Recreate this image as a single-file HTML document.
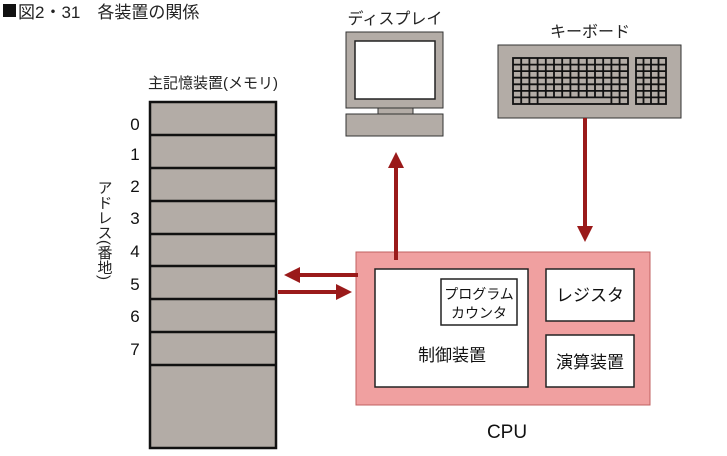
<!DOCTYPE html>
<html><head><meta charset="utf-8"><style>
html,body{margin:0;padding:0;background:#fff;}
svg{display:block;font-family:"Liberation Sans","Noto Sans CJK JP",sans-serif;}
</style></head><body>
<svg width="727" height="456" viewBox="0 0 727 456" xmlns="http://www.w3.org/2000/svg">
<defs>
<marker id="ah" markerWidth="4" markerHeight="4" refX="2" refY="2" orient="auto" markerUnits="strokeWidth">
<path d="M0,0 L4,2 L0,4 Z" fill="#9a1a1a"/></marker>
</defs>
<rect x="3" y="4" width="13" height="13" fill="#111"/>
<text x="18" y="18" font-size="17" fill="#222">図2・31　各装置の関係</text>

<text x="213" y="88" font-size="15" text-anchor="middle" fill="#222">主記憶装置(メモリ)</text>
<rect x="150" y="102" width="126" height="346" fill="#b3aca6" stroke="#111" stroke-width="2.5"/>
<g stroke="#111" stroke-width="2.5">
<line x1="150" y1="135" x2="276" y2="135"/><line x1="150" y1="168" x2="276" y2="168"/>
<line x1="150" y1="201" x2="276" y2="201"/><line x1="150" y1="234" x2="276" y2="234"/>
<line x1="150" y1="266" x2="276" y2="266"/><line x1="150" y1="299" x2="276" y2="299"/>
<line x1="150" y1="332" x2="276" y2="332"/><line x1="150" y1="365" x2="276" y2="365"/>
</g>
<g font-size="17" text-anchor="middle" fill="#111">
<text x="135" y="130">0</text><text x="135" y="160">1</text><text x="135" y="192">2</text>
<text x="135" y="224">3</text><text x="135" y="257">4</text><text x="135" y="290">5</text>
<text x="135" y="322">6</text><text x="135" y="355">7</text>
</g>
<text x="104" y="180" font-size="15" fill="#222" style="writing-mode:vertical-rl">アドレス(番地)</text>

<text x="395" y="24" font-size="16" text-anchor="middle" fill="#222">ディスプレイ</text>
<rect x="346" y="32" width="97" height="76" fill="#b3aca6" stroke="#333" stroke-width="1"/>
<rect x="355" y="41" width="80" height="58" fill="#fff" stroke="#222" stroke-width="1.5"/>
<rect x="378" y="108" width="35" height="7" fill="#b3aca6" stroke="#333" stroke-width="1"/>
<rect x="346" y="114" width="97" height="22" fill="#b3aca6" stroke="#333" stroke-width="1"/>

<text x="590" y="37" font-size="16" text-anchor="middle" fill="#222">キーボード</text>
<rect x="498" y="45" width="183" height="73" fill="#b3aca6" stroke="#333" stroke-width="1"/>
<g stroke="#111" stroke-width="1.8" fill="none">
<rect x="513" y="58" width="115" height="46"/>
<rect x="636" y="58" width="30" height="46"/>
<path d="M513,64.6H628M513,71.1H628M513,77.7H628M513,84.3H628M513,90.9H628M513,97.4H628"/>
<path d="M521.2,58V104M529.4,58V104M537.6,58V104M545.8,58V97.4M554,58V97.4M562.2,58V97.4M570.4,58V97.4M578.6,58V97.4M586.8,58V97.4M595,58V97.4M603.2,58V97.4M611.4,58V104M619.6,58V104"/>
<path d="M636,64.6H666M636,71.1H666M636,77.7H666M636,84.3H666M636,90.9H666M636,97.4H666"/>
<path d="M643.5,58V104M651,58V104M658.5,58V104"/>
</g>

<rect x="356" y="252" width="294" height="153" fill="#f0a0a0" stroke="#c06060" stroke-width="1"/>
<rect x="375" y="269" width="153" height="118" fill="#fff" stroke="#222" stroke-width="1.5"/>
<rect x="441" y="279" width="76" height="46" fill="#fff" stroke="#222" stroke-width="1.5"/>
<text x="479" y="299" font-size="14" text-anchor="middle" fill="#111">プログラム</text>
<text x="479" y="318" font-size="14" text-anchor="middle" fill="#111">カウンタ</text>
<text x="452" y="361" font-size="17" text-anchor="middle" fill="#111">制御装置</text>
<rect x="546" y="269" width="88" height="52" fill="#fff" stroke="#222" stroke-width="1.5"/>
<text x="590" y="301" font-size="17" text-anchor="middle" fill="#111">レジスタ</text>
<rect x="546" y="335" width="88" height="52" fill="#fff" stroke="#222" stroke-width="1.5"/>
<text x="590" y="368" font-size="17" text-anchor="middle" fill="#111">演算装置</text>
<text x="507" y="438" font-size="19" text-anchor="middle" fill="#111">CPU</text>

<g stroke="#9a1a1a" stroke-width="4" fill="none">
<line x1="396" y1="260" x2="396" y2="160" marker-end="url(#ah)"/>
<line x1="585" y1="118" x2="585" y2="234" marker-end="url(#ah)"/>
<line x1="358" y1="275" x2="292" y2="275" marker-end="url(#ah)"/>
<line x1="278" y1="292" x2="344" y2="292" marker-end="url(#ah)"/>
</g>
</svg>
</body></html>
